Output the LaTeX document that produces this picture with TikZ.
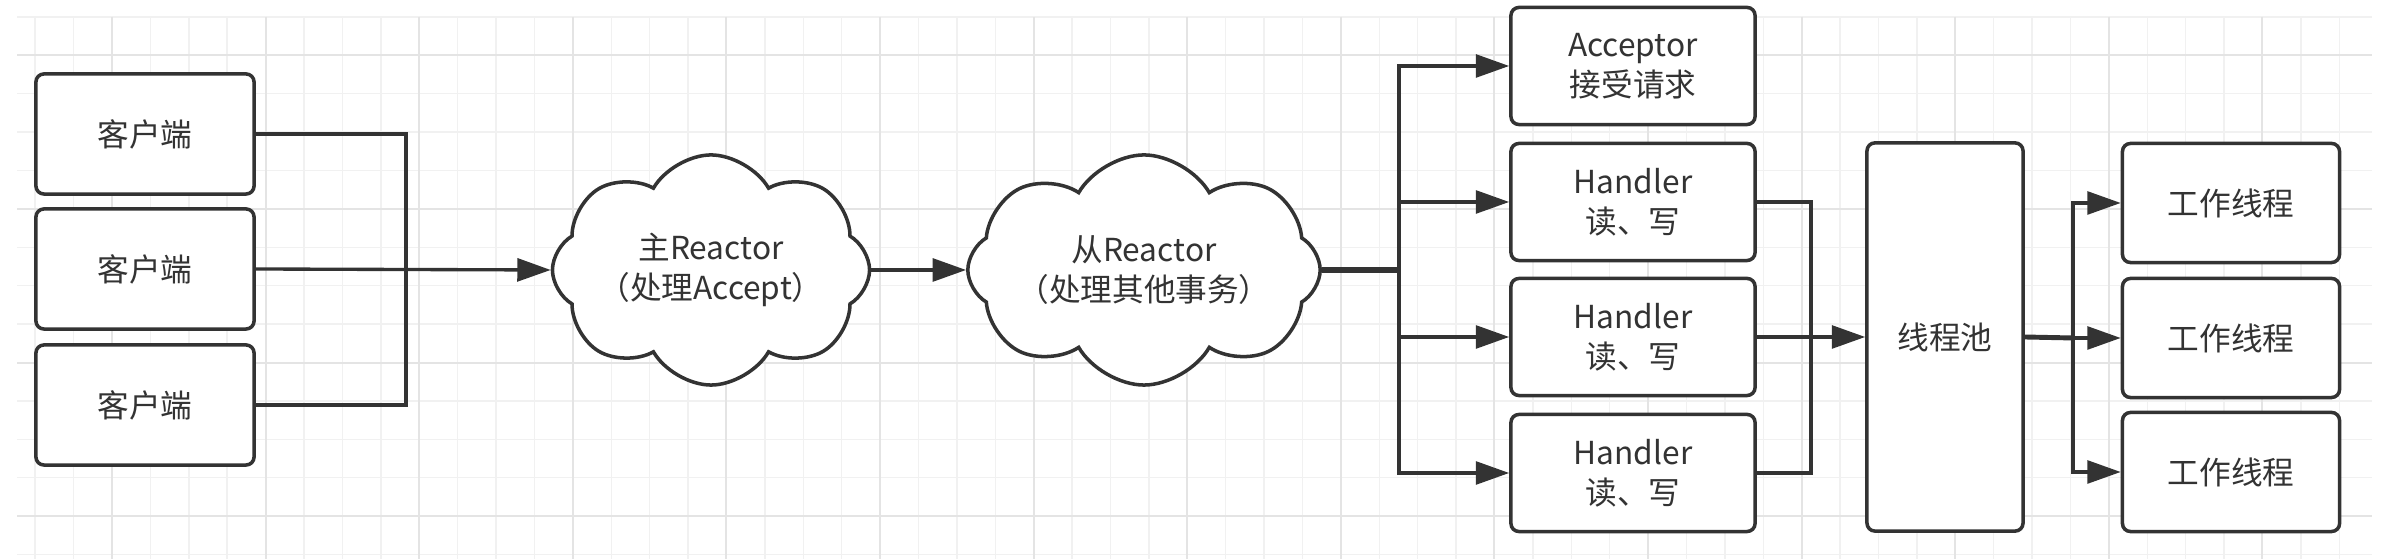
\documentclass[tikz,border=0pt]{standalone}
\usepackage{fontspec}
\setmainfont{Noto Sans CJK SC}
\usetikzlibrary{arrows.meta,shapes.symbols}
\definecolor{ink}{HTML}{333333}
\definecolor{gridminor}{HTML}{F1F1F1}
\definecolor{gridmajor}{HTML}{E4E4E4}
\tikzset{
  box/.style={rectangle, draw=ink, line width=1pt, rounded corners=0.8mm, fill=white,
    text=ink, align=center, font=\fontsize{9}{11.4}\selectfont},
  reactor/.style={cloud, cloud puffs=8, cloud puff arc=120, cloud ignores aspect,
    draw=ink, line width=1pt, fill=white,
    text=ink, align=center, font=\fontsize{9}{11.4}\selectfont,
    minimum width=3.13cm, minimum height=2.3cm, inner sep=0pt},
  link/.style={draw=ink, line width=0.95pt},
  arrow/.style={link, -{Triangle[length=9.5pt,width=6.5pt]}}
}
\begin{document}
\begin{tikzpicture}[x=0.01cm, y=-0.01cm]
\useasboundingbox (0,0) rectangle (2388,559);
% grid paper
\foreach \i in {0,...,60}
  \draw[gridminor, line width=0.4pt] (35.2+38.4*\i,17) -- (35.2+38.4*\i,559);
\foreach \j in {0,...,14}
  \draw[gridminor, line width=0.4pt] (17,17+38.4*\j) -- (2372,17+38.4*\j);
\foreach \i in {0,...,14}
  \draw[gridmajor, line width=0.6pt] (112+153.6*\i,17) -- (112+153.6*\i,559);
\foreach \j in {0,...,3}
  \draw[gridmajor, line width=0.6pt] (17,55.4+153.6*\j) -- (2372,55.4+153.6*\j);

\node[box, minimum width=2.18cm, minimum height=1.2cm] (client1) at (145,134) {客户端};
\node[box, minimum width=2.18cm, minimum height=1.2cm] (client2) at (145,269) {客户端};
\node[box, minimum width=2.18cm, minimum height=1.2cm] (client3) at (145,405) {客户端};

\node[reactor] (mainR) at (711,270) {主Reactor\\（处理Accept）};
\node[reactor] (subR) at (1144,270) {从Reactor\\（处理其他事务）};

\node[box, minimum width=2.44cm, minimum height=1.17cm] (acceptor) at (1633,66) {Acceptor\\接受请求};
\node[box, minimum width=2.44cm, minimum height=1.17cm] (handler1) at (1633,202) {Handler\\读、写};
\node[box, minimum width=2.44cm, minimum height=1.17cm] (handler2) at (1633,337) {Handler\\读、写};
\node[box, minimum width=2.44cm, minimum height=1.17cm] (handler3) at (1633,473) {Handler\\读、写};

\node[box, minimum width=1.56cm, minimum height=3.88cm] (pool) at (1945,337) {线程池};

\node[box, minimum width=2.17cm, minimum height=1.19cm] (worker1) at (2231,203) {工作线程};
\node[box, minimum width=2.17cm, minimum height=1.19cm] (worker2) at (2231,338) {工作线程};
\node[box, minimum width=2.17cm, minimum height=1.19cm] (worker3) at (2231,472) {工作线程};

\coordinate (join) at (406,269);
\coordinate (fork) at (1399,270);
\coordinate (merge) at (1811,337);
\coordinate (split) at (2073,338);

\draw[link] (client1.east) -| (join) |- (client3.east);
\draw[arrow] (client2.east) -- (mainR.west);
\draw[arrow] (mainR.east) -- (subR.west);
\draw[link, line width=1.7pt] (subR.east) -- (fork);
\foreach \n in {acceptor,handler1,handler2,handler3}
  \draw[arrow] (fork) |- (\n.west);
\draw[link] (handler1.east) -| (merge) |- (handler3.east);
\draw[arrow] (handler2.east) -- (pool.west);
\draw[link, line width=1.4pt] (pool.east) -- (split);
\foreach \n in {worker1,worker2,worker3}
  \draw[arrow] (split) |- (\n.west);
\end{tikzpicture}
\end{document}
